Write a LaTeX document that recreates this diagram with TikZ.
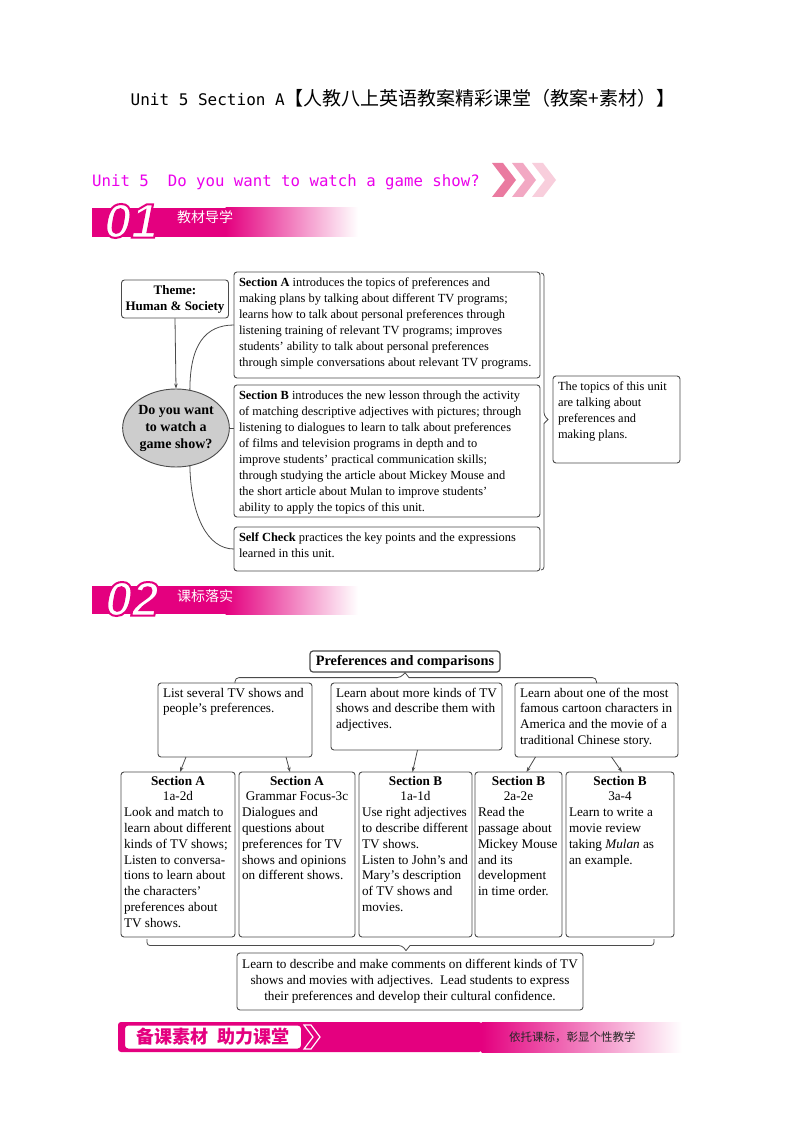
\documentclass[tikz,border=0pt]{standalone}
\usepackage{fontspec}
\setmainfont{Liberation Serif}
\newfontfamily\cjk{Noto Sans CJK SC}
\newfontfamily\monof{DejaVu Sans Mono}
\newfontfamily\digitf{Liberation Sans}
\usetikzlibrary{shapes.geometric,arrows.meta,calc}
\definecolor{mag}{RGB}{228,0,127}
\definecolor{tmag}{RGB}{235,0,235}
\definecolor{chevA}{RGB}{234,122,160}
\definecolor{chevB}{RGB}{242,168,195}
\definecolor{chevC}{RGB}{248,206,220}
\definecolor{lg}{RGB}{75,75,75}
\definecolor{ellg}{RGB}{205,205,205}
\newcommand{\fa}{\fontsize{12.4}{16}\selectfont}
\newcommand{\fb}{\fontsize{13.2}{15.8}\selectfont}
\newcommand{\txtbox}[3]{\begin{minipage}[t][#2][t]{#1}#3\end{minipage}}
\newcommand{\rowthree}[5]{\begin{minipage}[t][#2][t]{#1}\fb\raggedright\centerline{\strut\textbf{#3}}\centerline{#4}#5\end{minipage}}
\newcommand{\outlined}[1]{{\color{white}\special{pdf:literal direct 2 Tr 2 w 0.894 0 0.498 RG}#1\special{pdf:literal direct 0 Tr 0.4 w}}}
\begin{document}
\begin{tikzpicture}[x=1pt,y=-1pt,
  box/.style={draw=lg, line width=0.9pt, rounded corners=3pt, inner xsep=5pt, inner ysep=3pt, outer sep=0pt, anchor=north west, fill=white},
  cbox/.style={box, inner xsep=3pt, inner ysep=2pt},
  conn/.style={draw=lg, line width=0.8pt},
  arr/.style={conn, -{Stealth[length=5pt,width=3.5pt]}},
  dig/.style={font=\digitf\bfseries\itshape\fontsize{48}{48}\selectfont, inner sep=0pt},
  bantext/.style={anchor=west, text=white, font=\cjk\fontsize{14}{14}\selectfont, inner sep=0pt}]
\useasboundingbox (0,0) rectangle (800,1131);
\fill[white] (0,0) rectangle (800,1131);

% top title
\node (title) at (403,98) {\monof\fontsize{16}{18}\selectfont Unit 5 Section A{\cjk\fontsize{19}{20}\selectfont 【人教八上英语教案精彩课堂（教案+素材）】}};

% unit heading
\node[anchor=west, text=tmag, inner sep=0pt] (unit) at (92,182) {\monof\fontsize{15.7}{18}\selectfont Unit 5\ \ Do you want to watch a game show?};
\foreach \i/\c in {2/chevC,1/chevB,0/chevA}
  \fill[\c] ({492+20*\i},163) -- ++(11,0) -- ++(13,17) -- ++(-13,17) -- ++(-11,0) -- ++(13,-17) -- cycle;

% banner 01
\fill[mag] (92,208) rectangle (226,237);
\shade[left color=mag, right color=white] (225.5,208) rectangle (358,237);
\node[dig] (n01) at (131,221) {\outlined{01}};
\node[bantext] (t01) at (177,217) {教材导学};

% section 1
\node[draw=lg, line width=0.9pt, rounded corners=3pt, align=center, minimum width=107pt, minimum height=38pt, inner sep=2pt, font=\fontsize{13}{16}\selectfont\bfseries] (theme) at (175,299) {Theme:\\Human \& Society};
\node[ellipse, draw=lg, line width=0.9pt, fill=ellg, minimum width=104pt, minimum height=78pt, inner sep=0pt, align=center, font=\fontsize{14}{17}\selectfont\bfseries] (ell) at (176,428) {Do you want\\to watch a\\game show?};

\node[box] (secA) at (234,272) {\txtbox{296pt}{100pt}{\fa\raggedright\strut\textbf{Section A} introduces the topics of preferences and\\
making plans by talking about different TV programs;\\
learns how to talk about personal preferences through\\
listening training of relevant TV programs; improves\\
students’ ability to talk about personal preferences\\
through simple conversations about relevant TV programs.}};
\node[box] (secB) at (234,385) {\txtbox{296pt}{126pt}{\fa\raggedright\strut\textbf{Section B} introduces the new lesson through the activity\\
of matching descriptive adjectives with pictures; through\\
listening to dialogues to learn to talk about preferences\\
of films and television programs in depth and to\\
improve students’ practical communication skills;\\
through studying the article about Mickey Mouse and\\
the short article about Mulan to improve students’\\
ability to apply the topics of this unit.}};
\node[box] (self) at (234,527) {\txtbox{296pt}{38pt}{\fa\raggedright\strut\textbf{Self Check} practices the key points and the expressions\\
learned in this unit.}};
\node[box] (topics) at (553,376) {\txtbox{117pt}{81pt}{\fa\raggedright\strut The topics of this unit\\
are talking about\\
preferences and\\
making plans.}};

\draw[arr] (theme.south) -- (ell.north);
\draw[conn] (ell.70) .. controls (190,345) and (205,325) .. (secA.west);
\draw[conn] (ell.east) -- (ell.east -| secB.west);
\draw[conn] (ell.-70) .. controls (191,515) and (207,549) .. (self.west);
\coordinate (bt) at (541,273);
\coordinate (bb) at (541,570);
\draw[conn] (bt) [rounded corners=3pt] -| ($(topics.west)+(-9,-4)$) [sharp corners] -- ($(topics.west)+(-5,0)$) -- ($(topics.west)+(-9,4)$) [rounded corners=3pt] |- (bb);

% banner 02
\fill[mag] (92,586) rectangle (226,614);
\shade[left color=mag, right color=white] (225.5,586) rectangle (358,614);
\node[dig] (n02) at (132,599) {\outlined{02}};
\node[bantext] (t02) at (177,596) {课标落实};

% section 2
\node[draw=lg, line width=1.2pt, rounded corners=3pt, minimum width=190pt, minimum height=21pt, inner sep=0pt, font=\fontsize{14.3}{16}\selectfont\bfseries] (ptitle) at (405,661.5) {Preferences and comparisons};

\node[box] (r1) at (158,683) {\txtbox{144pt}{68pt}{\fb\raggedright\strut List several TV shows and\\
people’s preferences.}};
\node[box] (r2) at (331,683) {\txtbox{161pt}{61pt}{\fb\raggedright\strut Learn about more kinds of TV\\
shows and describe them with\\
adjectives.}};
\node[box] (r3) at (515,683) {\txtbox{153pt}{68pt}{\fb\raggedright\strut Learn about one of the most\\
famous cartoon characters in\\
America and the movie of a\\
traditional Chinese story.}};

\draw[conn] (r1.north) [rounded corners=4pt] |- ($(ptitle.south)+(-4,5)$) [sharp corners] -- (ptitle.south) -- ($(ptitle.south)+(4,5)$) [rounded corners=4pt] -| (r3.north);

\node[cbox] (sa1) at (121,772) {\rowthree{108pt}{161pt}{Section A}{1a-2d}{Look and match to\\
learn about different\\
kinds of TV shows;\\
Listen to conversa-\\
tions to learn about\\
the characters’\\
preferences about\\
TV shows.}};
\node[cbox] (sa2) at (239,772) {\rowthree{110pt}{161pt}{Section A}{Grammar Focus-3c}{Dialogues and\\
questions about\\
preferences for TV\\
shows and opinions\\
on different shows.}};
\node[cbox] (sb1) at (359,772) {\rowthree{107pt}{161pt}{Section B}{1a-1d}{Use right adjectives\\
to describe different\\
TV shows.\\
Listen to John’s and\\
Mary’s description\\
of TV shows and\\
movies.}};
\node[cbox] (sb2) at (475,772) {\rowthree{81pt}{161pt}{Section B}{2a-2e}{Read the\\
passage about\\
Mickey Mouse\\
and its\\
development\\
in time order.}};
\node[cbox] (sb3) at (566,772) {\rowthree{102pt}{161pt}{Section B}{3a-4}{Learn to write a\\
movie review\\
taking \textit{Mulan} as\\
an example.}};

\draw[arr] ([xshift=-49pt]r1.south) -- ([xshift=2pt]sa1.north);
\draw[arr] ([xshift=51pt]r1.south) -- ([xshift=-7pt]sa2.north);
\draw[arr] ([xshift=1pt]r2.south) -- ([xshift=-3pt]sb1.north);
\draw[arr] ([xshift=-61pt]r3.south) -- ([xshift=8pt]sb2.north);
\draw[arr] ([xshift=15pt]r3.south) -- ([xshift=2pt]sb3.north);

\node[draw=lg, line width=0.9pt, rounded corners=3pt, minimum width=346pt, minimum height=57pt, inner sep=0pt, align=center, font=\fb] (sum) at (410,981.5) {Learn to describe and make comments on different kinds of TV\\
shows and movies with adjectives.\ \ Lead students to express\\
their preferences and develop their cultural confidence.};

\coordinate (bl) at (147,939);
\coordinate (br) at (654,939);
\draw[conn] (bl) [rounded corners=3pt] |- ($(sum.north)+(-8,-7)$) [sharp corners] -- ($(sum.north)+(-4,-2)$) -- ($(sum.north)+(0,-7)$) [rounded corners=3pt] -| (br);

% bottom banner
\fill[mag, rounded corners=3pt] (118,1022) rectangle (482,1052);
\shade[left color=mag, right color=white] (481.5,1022) rectangle (682,1052);
\node[draw=mag, line width=2pt, fill=white, rounded corners=4pt, minimum width=178pt, minimum height=25pt, inner sep=0pt, anchor=west, font=\cjk\bfseries\fontsize{18}{18}\selectfont, text=mag] (bk) at (123,1037) {备课素材\hspace{9pt}助力课堂};
\draw[white, line width=1.2pt, fill=mag] (304,1025) -- (311,1025) -- (320,1037) -- (311,1049) -- (304,1049) -- (313,1037) -- cycle;
\node[anchor=west, inner sep=0pt, font=\cjk\fontsize{11.5}{12}\selectfont, text=black!85] (slogan) at (509,1037) {依托课标，彰显个性教学};
\end{tikzpicture}
\end{document}
